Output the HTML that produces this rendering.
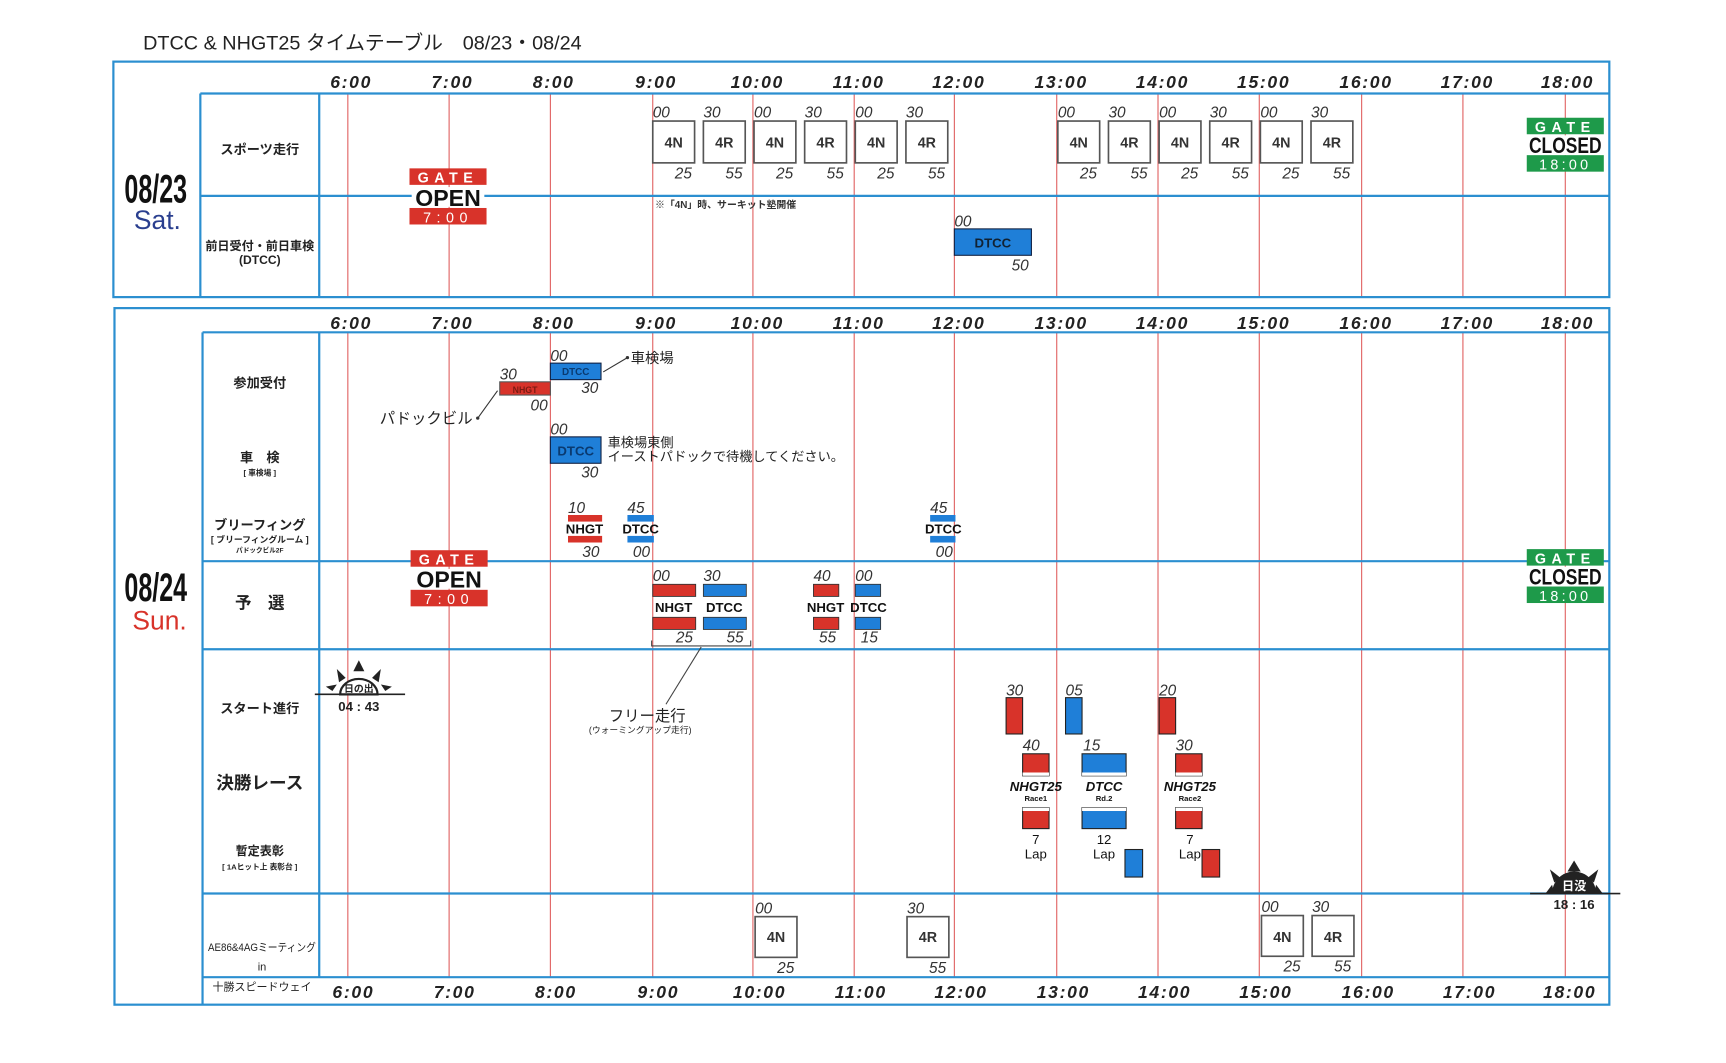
<!DOCTYPE html>
<html><head><meta charset="utf-8"><style>
html,body{margin:0;padding:0;background:#fff;}
svg{display:block}
text{font-family:"Liberation Sans","Noto Sans CJK JP",sans-serif;}
.h{font-size:16px;font-weight:bold;font-style:italic;letter-spacing:1.5px;fill:#222}
.m{font-size:14px;font-style:italic;fill:#333}
.b{font-size:13px;font-weight:bold;fill:#333}
.lab{font-size:12px;font-weight:bold;fill:#222}
</style></head><body>
<svg width="1726" height="1063" viewBox="0 0 1568 966" preserveAspectRatio="none" xmlns="http://www.w3.org/2000/svg">
<rect width="1568" height="966" fill="#fff"/>
<text x="130" y="45" font-size="18" fill="#222">DTCC &amp; NHGT25 タイムテーブル　08/23・08/24</text>

<g stroke="#e06060" stroke-width="1">
<line x1="316" y1="85" x2="316" y2="270"/><line x1="408" y1="85" x2="408" y2="270"/><line x1="500" y1="85" x2="500" y2="270"/><line x1="593" y1="85" x2="593" y2="270"/><line x1="684" y1="85" x2="684" y2="270"/><line x1="776" y1="85" x2="776" y2="270"/><line x1="867" y1="85" x2="867" y2="270"/><line x1="960" y1="85" x2="960" y2="270"/><line x1="1052" y1="85" x2="1052" y2="270"/><line x1="1144" y1="85" x2="1144" y2="270"/><line x1="1237" y1="85" x2="1237" y2="270"/><line x1="1329" y1="85" x2="1329" y2="270"/><line x1="1422" y1="85" x2="1422" y2="270"/>
<line x1="316" y1="302" x2="316" y2="888"/><line x1="408" y1="302" x2="408" y2="888"/><line x1="500" y1="302" x2="500" y2="888"/><line x1="593" y1="302" x2="593" y2="888"/><line x1="684" y1="302" x2="684" y2="888"/><line x1="776" y1="302" x2="776" y2="888"/><line x1="867" y1="302" x2="867" y2="888"/><line x1="960" y1="302" x2="960" y2="888"/><line x1="1052" y1="302" x2="1052" y2="888"/><line x1="1144" y1="302" x2="1144" y2="888"/><line x1="1237" y1="302" x2="1237" y2="888"/><line x1="1329" y1="302" x2="1329" y2="888"/><line x1="1422" y1="302" x2="1422" y2="888"/>
</g>

<g stroke="#2b8fd0" stroke-width="2" fill="none">
<rect x="103" y="56" width="1359" height="214"/>
<line x1="182" y1="85" x2="1462" y2="85"/>
<line x1="182" y1="85" x2="182" y2="270"/>
<line x1="290" y1="85" x2="290" y2="270"/>
<line x1="182" y1="178" x2="1462" y2="178"/>
<rect x="104" y="280" width="1358" height="633"/>
<line x1="184" y1="302" x2="1462" y2="302"/>
<line x1="184" y1="302" x2="184" y2="913"/>
<line x1="290" y1="302" x2="290" y2="888"/>
<line x1="184" y1="510" x2="1462" y2="510"/>
<line x1="184" y1="590" x2="1462" y2="590"/>
<line x1="184" y1="812" x2="1462" y2="812"/>
<line x1="184" y1="888" x2="1462" y2="888"/>
</g>

<g class="h" text-anchor="middle">
<text x="319" y="80">6:00</text><text x="411" y="80">7:00</text><text x="503" y="80">8:00</text><text x="596" y="80">9:00</text><text x="688" y="80">10:00</text><text x="780" y="80">11:00</text><text x="871" y="80">12:00</text><text x="964" y="80">13:00</text><text x="1056" y="80">14:00</text><text x="1148" y="80">15:00</text><text x="1241" y="80">16:00</text><text x="1333" y="80">17:00</text><text x="1424" y="80">18:00</text>
</g>
<g class="h" text-anchor="middle">
<text x="319" y="299">6:00</text><text x="411" y="299">7:00</text><text x="503" y="299">8:00</text><text x="596" y="299">9:00</text><text x="688" y="299">10:00</text><text x="780" y="299">11:00</text><text x="871" y="299">12:00</text><text x="964" y="299">13:00</text><text x="1056" y="299">14:00</text><text x="1148" y="299">15:00</text><text x="1241" y="299">16:00</text><text x="1333" y="299">17:00</text><text x="1424" y="299">18:00</text>
</g>
<g class="h" text-anchor="middle">
<text x="321" y="907">6:00</text><text x="413" y="907">7:00</text><text x="505" y="907">8:00</text><text x="598" y="907">9:00</text><text x="690" y="907">10:00</text><text x="782" y="907">11:00</text><text x="873" y="907">12:00</text><text x="966" y="907">13:00</text><text x="1058" y="907">14:00</text><text x="1150" y="907">15:00</text><text x="1243" y="907">16:00</text><text x="1335" y="907">17:00</text><text x="1426" y="907">18:00</text>
</g>

<text x="113" y="184" font-size="36" font-weight="bold" fill="#111" textLength="57" lengthAdjust="spacingAndGlyphs">08/23</text>
<text x="143" y="208" text-anchor="middle" font-size="24" fill="#2a3f8f">Sat.</text>
<text x="113" y="546" font-size="36" font-weight="bold" fill="#111" textLength="57" lengthAdjust="spacingAndGlyphs">08/24</text>
<text x="145" y="572" text-anchor="middle" font-size="24" fill="#d8332a">Sun.</text>

<g class="lab" text-anchor="middle">
<text x="236" y="140">スポーツ走行</text>
<text x="236" y="227" font-size="11">前日受付・前日車検</text>
<text x="236" y="240" font-size="11">(DTCC)</text>
<text x="236" y="352">参加受付</text>
<text x="236" y="420">車　検</text>
<text x="236" y="432" font-size="7">[ 車検場 ]</text>
<text x="236" y="481">ブリーフィング</text>
<text x="236" y="493" font-size="8">[ ブリーフィングルーム ]</text>
<text x="236" y="502" font-size="6">パドックビル2F</text>
<text x="236" y="553" font-size="15">予　選</text>
<text x="236" y="648">スタート進行</text>
<text x="236" y="717" font-size="16">決勝レース</text>
<text x="236" y="777" font-size="11">暫定表彰</text>
<text x="236" y="790" font-size="7">[ 1Aヒット上 表彰台 ]</text>
<text x="238" y="864" font-size="10" font-weight="normal" textLength="98" lengthAdjust="spacingAndGlyphs">AE86&amp;4AGミーティング</text>
<text x="238" y="882" font-size="10" font-weight="normal">in</text>
<text x="238" y="900" font-size="10" font-weight="normal">十勝スピードウェイ</text>
</g>

<g stroke="#555" stroke-width="1.5" fill="#fff">
<rect x="593" y="110" width="38" height="38"/><rect x="639" y="110" width="38" height="38"/><rect x="685" y="110" width="38" height="38"/><rect x="731" y="110" width="38" height="38"/><rect x="777" y="110" width="38" height="38"/><rect x="823" y="110" width="38" height="38"/>
<rect x="961" y="110" width="38" height="38"/><rect x="1007" y="110" width="38" height="38"/><rect x="1053" y="110" width="38" height="38"/><rect x="1099" y="110" width="38" height="38"/><rect x="1145" y="110" width="38" height="38"/><rect x="1191" y="110" width="38" height="38"/>
<rect x="686" y="833" width="38" height="37"/><rect x="824" y="833" width="38" height="37"/><rect x="1146" y="832" width="38" height="37"/><rect x="1192" y="832" width="38" height="37"/>
</g>
<g class="b" text-anchor="middle">
<text x="612" y="134">4N</text><text x="658" y="134">4R</text><text x="704" y="134">4N</text><text x="750" y="134">4R</text><text x="796" y="134">4N</text><text x="842" y="134">4R</text>
<text x="980" y="134">4N</text><text x="1026" y="134">4R</text><text x="1072" y="134">4N</text><text x="1118" y="134">4R</text><text x="1164" y="134">4N</text><text x="1210" y="134">4R</text>
<text x="705" y="856">4N</text><text x="843" y="856">4R</text><text x="1165" y="856">4N</text><text x="1211" y="856">4R</text>
</g>
<g class="m">
<text x="593" y="107">00</text><text x="639" y="107">30</text><text x="685" y="107">00</text><text x="731" y="107">30</text><text x="777" y="107">00</text><text x="823" y="107">30</text>
<text x="961" y="107">00</text><text x="1007" y="107">30</text><text x="1053" y="107">00</text><text x="1099" y="107">30</text><text x="1145" y="107">00</text><text x="1191" y="107">30</text>
<text x="613" y="162">25</text><text x="659" y="162">55</text><text x="705" y="162">25</text><text x="751" y="162">55</text><text x="797" y="162">25</text><text x="843" y="162">55</text>
<text x="981" y="162">25</text><text x="1027" y="162">55</text><text x="1073" y="162">25</text><text x="1119" y="162">55</text><text x="1165" y="162">25</text><text x="1211" y="162">55</text>
<text x="686" y="830">00</text><text x="824" y="830">30</text><text x="706" y="884">25</text><text x="844" y="884">55</text>
<text x="1146" y="829">00</text><text x="1192" y="829">30</text><text x="1166" y="883">25</text><text x="1212" y="883">55</text>
</g>
<text x="595" y="189" font-size="9" font-weight="bold" fill="#333">※「4N」時、サーキット塾開催</text>

<rect x="867" y="208" width="70" height="24" fill="#1f7fd8" stroke="#124" stroke-width="1"/>
<text x="902" y="225" text-anchor="middle" font-size="12" font-weight="bold" fill="#123">DTCC</text>
<text x="867" y="206" class="m">00</text><text x="919" y="246" class="m">50</text>

<g>
<rect x="372" y="153" width="70" height="15" fill="#d8332a"/>
<text x="407" y="166" text-anchor="middle" font-size="13" font-weight="bold" fill="#fff" letter-spacing="5">GATE</text>
<rect x="374" y="170" width="66" height="18" fill="#fff"/>
<text x="407" y="187" text-anchor="middle" font-size="21" font-weight="bold" fill="#111">OPEN</text>
<rect x="372" y="189" width="70" height="15" fill="#d8332a"/>
<text x="407" y="202" text-anchor="middle" font-size="13" fill="#fff" letter-spacing="5">7:00</text>
</g>
<g transform="translate(1,347)">
<rect x="372" y="153" width="70" height="15" fill="#d8332a"/>
<text x="407" y="166" text-anchor="middle" font-size="13" font-weight="bold" fill="#fff" letter-spacing="5">GATE</text>
<rect x="374" y="170" width="66" height="18" fill="#fff"/>
<text x="407" y="187" text-anchor="middle" font-size="21" font-weight="bold" fill="#111">OPEN</text>
<rect x="372" y="189" width="70" height="15" fill="#d8332a"/>
<text x="407" y="202" text-anchor="middle" font-size="13" fill="#fff" letter-spacing="5">7:00</text>
</g>
<g>
<rect x="1387" y="107" width="70" height="15" fill="#1e9a4a"/>
<text x="1422" y="120" text-anchor="middle" font-size="13" font-weight="bold" fill="#fff" letter-spacing="5">GATE</text>
<rect x="1388" y="123" width="68" height="18" fill="#fff"/>
<text x="1389" y="139" font-size="20" font-weight="bold" fill="#111" textLength="66" lengthAdjust="spacingAndGlyphs">CLOSED</text>
<rect x="1387" y="141" width="70" height="15" fill="#1e9a4a"/>
<text x="1422" y="154" text-anchor="middle" font-size="13" fill="#fff" letter-spacing="3">18:00</text>
</g>
<g transform="translate(0,392)">
<rect x="1387" y="107" width="70" height="15" fill="#1e9a4a"/>
<text x="1422" y="120" text-anchor="middle" font-size="13" font-weight="bold" fill="#fff" letter-spacing="5">GATE</text>
<rect x="1388" y="123" width="68" height="18" fill="#fff"/>
<text x="1389" y="139" font-size="20" font-weight="bold" fill="#111" textLength="66" lengthAdjust="spacingAndGlyphs">CLOSED</text>
<rect x="1387" y="141" width="70" height="15" fill="#1e9a4a"/>
<text x="1422" y="154" text-anchor="middle" font-size="13" fill="#fff" letter-spacing="3">18:00</text>
</g>

<rect x="454" y="347" width="46" height="12" fill="#d8332a" stroke="#555"/>
<text x="477" y="357" text-anchor="middle" font-size="8" font-weight="bold" fill="#7a1a12">NHGT</text>
<rect x="500" y="330" width="46" height="15" fill="#1f7fd8" stroke="#124"/>
<text x="523" y="341" text-anchor="middle" font-size="9" font-weight="bold" fill="#0a3a70">DTCC</text>
<g class="m"><text x="454" y="345">30</text><text x="482" y="373">00</text><text x="500" y="328">00</text><text x="528" y="357">30</text></g>
<line x1="548" y1="338" x2="570" y2="325" stroke="#333"/><circle cx="570" cy="325" r="1.5" fill="#333"/>
<text x="573" y="330" font-size="13" fill="#222">車検場</text>
<line x1="452" y1="355" x2="434" y2="380" stroke="#333"/><circle cx="434" cy="380" r="1.5" fill="#333"/>
<text x="345" y="385" font-size="14" fill="#222">パドックビル</text>

<rect x="500" y="397" width="46" height="24" fill="#1f7fd8" stroke="#124"/>
<text x="523" y="414" text-anchor="middle" font-size="12" font-weight="bold" fill="#0a3a70">DTCC</text>
<g class="m"><text x="500" y="395">00</text><text x="528" y="434">30</text></g>
<text x="552" y="406" font-size="12" fill="#222">車検場東側</text>
<text x="552" y="419" font-size="12" fill="#222">イーストパドックで待機してください。</text>

<rect x="516" y="468" width="31" height="6" fill="#d8332a"/><rect x="516" y="487" width="31" height="6" fill="#d8332a"/>
<text x="531" y="485" text-anchor="middle" font-size="12" font-weight="bold" fill="#111">NHGT</text>
<g class="m"><text x="516" y="466">10</text><text x="529" y="506">30</text></g>
<rect x="570" y="468" width="24" height="6" fill="#1f7fd8"/><rect x="570" y="487" width="24" height="6" fill="#1f7fd8"/>
<text x="582" y="485" text-anchor="middle" font-size="12" font-weight="bold" fill="#111">DTCC</text>
<g class="m"><text x="570" y="466">45</text><text x="575" y="506">00</text></g>
<rect x="845" y="468" width="23" height="6" fill="#1f7fd8"/><rect x="845" y="487" width="23" height="6" fill="#1f7fd8"/>
<text x="857" y="485" text-anchor="middle" font-size="12" font-weight="bold" fill="#111">DTCC</text>
<g class="m"><text x="845" y="466">45</text><text x="850" y="506">00</text></g>

<g stroke="#333" stroke-width="0.8">
<rect x="593" y="531" width="39" height="11" fill="#d8332a"/><rect x="593" y="561" width="39" height="11" fill="#d8332a"/>
<rect x="639" y="531" width="39" height="11" fill="#1f7fd8"/><rect x="639" y="561" width="39" height="11" fill="#1f7fd8"/>
<rect x="739" y="531" width="23" height="11" fill="#d8332a"/><rect x="739" y="561" width="23" height="11" fill="#d8332a"/>
<rect x="777" y="531" width="23" height="11" fill="#1f7fd8"/><rect x="777" y="561" width="23" height="11" fill="#1f7fd8"/>
</g>
<g font-size="12" font-weight="bold" fill="#111" text-anchor="middle">
<text x="612" y="556">NHGT</text><text x="658" y="556">DTCC</text><text x="750" y="556">NHGT</text><text x="789" y="556">DTCC</text>
</g>
<g class="m"><text x="593" y="528">00</text><text x="639" y="528">30</text><text x="614" y="584">25</text><text x="660" y="584">55</text>
<text x="739" y="528">40</text><text x="777" y="528">00</text><text x="744" y="584">55</text><text x="782" y="584">15</text></g>
<path d="M592 582 v5 h90 v-5" stroke="#444" fill="none"/>
<line x1="637" y1="588" x2="605" y2="640" stroke="#444"/>
<text x="553" y="655" font-size="14" fill="#222">フリー走行</text>
<text x="535" y="666" font-size="8" fill="#222">(ウォーミングアップ走行)</text>

<g transform="translate(326,618)">
<polygon points="0,-18 -5,-8 5,-8" fill="#222"/>
<polygon points="-20,-10 -12,-2 -18,2" fill="#222"/><polygon points="20,-10 12,-2 18,2" fill="#222"/>
<polygon points="-30,6 -20,4 -24,10" fill="#222"/><polygon points="30,6 20,4 24,10" fill="#222"/>
<path d="M-17 13 A17 14 0 0 1 17 13 Z" fill="#fff" stroke="#222" stroke-width="2"/>
<line x1="-40" y1="13" x2="42" y2="13" stroke="#222" stroke-width="1.5"/>
<text x="0" y="11" text-anchor="middle" font-size="9" font-weight="bold" fill="#222">日の出</text>
</g>
<text x="326" y="646" text-anchor="middle" font-size="12" font-weight="bold" fill="#222">04 : 43</text>

<g stroke="#222" stroke-width="1">
<rect x="914" y="634" width="15" height="33" fill="#d8332a"/>
<rect x="929" y="685" width="24" height="20" fill="#d8332a"/><rect x="929" y="734" width="24" height="19" fill="#d8332a"/>
<rect x="968" y="634" width="15" height="33" fill="#1f7fd8"/>
<rect x="983" y="685" width="40" height="20" fill="#1f7fd8"/><rect x="983" y="734" width="40" height="19" fill="#1f7fd8"/>
<rect x="1022" y="772" width="16" height="25" fill="#1f7fd8"/>
<rect x="1053" y="634" width="15" height="33" fill="#d8332a"/>
<rect x="1068" y="685" width="24" height="20" fill="#d8332a"/><rect x="1068" y="734" width="24" height="19" fill="#d8332a"/>
<rect x="1092" y="772" width="16" height="25" fill="#d8332a"/>
</g>
<g fill="#fff"><rect x="929" y="702" width="24" height="3"/><rect x="929" y="734" width="24" height="3"/><rect x="983" y="702" width="40" height="3"/><rect x="983" y="734" width="40" height="3"/><rect x="1068" y="702" width="24" height="3"/><rect x="1068" y="734" width="24" height="3"/></g>
<g class="m"><text x="914" y="632">30</text><text x="929" y="682">40</text><text x="968" y="632">05</text><text x="984" y="682">15</text><text x="1053" y="632">20</text><text x="1068" y="682">30</text></g>
<g font-size="12" font-weight="bold" font-style="italic" fill="#111" text-anchor="middle">
<text x="941" y="719">NHGT25</text><text x="1003" y="719">DTCC</text><text x="1081" y="719">NHGT25</text></g>
<g font-size="7" font-weight="bold" fill="#111" text-anchor="middle"><text x="941" y="728">Race1</text><text x="1003" y="728">Rd.2</text><text x="1081" y="728">Race2</text></g>
<g font-size="12" fill="#111" text-anchor="middle">
<text x="941" y="767">7</text><text x="941" y="780">Lap</text><text x="1003" y="767">12</text><text x="1003" y="780">Lap</text><text x="1081" y="767">7</text><text x="1081" y="780">Lap</text></g>

<g transform="translate(1430,812)">
<polygon points="0,-30 -6,-20 6,-20" fill="#222"/>
<polygon points="-22,-22 -12,-14 -18,-10" fill="#222"/><polygon points="22,-22 12,-14 18,-10" fill="#222"/>
<path d="M-20 0 A20 20 0 0 1 20 0 Z" fill="#222"/>
<polygon points="-26,0 -20,-8 -18,0" fill="#222"/><polygon points="26,0 20,-8 18,0" fill="#222"/>
<line x1="-40" y1="0" x2="42" y2="0" stroke="#222" stroke-width="1.5"/>
<text x="0" y="-3" text-anchor="middle" font-size="11" font-weight="bold" fill="#fff">日没</text>
</g>
<text x="1430" y="826" text-anchor="middle" font-size="12" font-weight="bold" fill="#222">18 : 16</text>
</svg>
</body></html>
